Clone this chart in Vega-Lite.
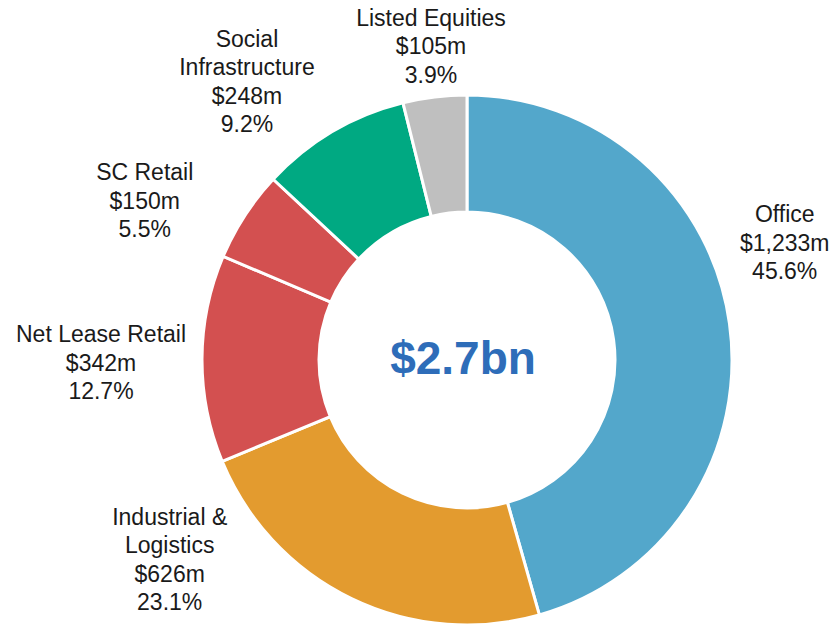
{
  "$schema": "https://vega.github.io/schema/vega-lite/v6.json",
  "autosize": "none",
  "width": 734,
  "height": 528,
  "padding": {"left": 100, "top": 96, "right": 0, "bottom": 0},
  "background": "white",
  "view": {"stroke": null},
  "config": {"text": {"font": "Liberation Sans", "fontSize": 23, "lineHeight": 28.5, "lineBreak": "\n", "color": "#1a1a1a", "align": "center", "baseline": "middle"}},
  "data": {
    "values": [
      {"category": "Office", "amount": 1233, "label": "Office\n$1,233m\n45.6%"},
      {"category": "Industrial & Logistics", "amount": 626, "label": "Industrial &\nLogistics\n$626m\n23.1%"},
      {"category": "Net Lease Retail", "amount": 342, "label": "Net Lease Retail\n$342m\n12.7%"},
      {"category": "SC Retail", "amount": 150, "label": "SC Retail\n$150m\n5.5%"},
      {"category": "Social Infrastructure", "amount": 248, "label": "Social\nInfrastructure\n$248m\n9.2%"},
      {"category": "Listed Equities", "amount": 105, "label": "Listed Equities\n$105m\n3.9%"}
    ]
  },
  "transform": [
    {"window": [{"op": "sum", "field": "amount", "as": "cum"}], "frame": [null, 0]},
    {"calculate": "datum.cum - datum.amount / 2", "as": "mid"}
  ],
  "layer": [
    {
      "mark": {"type": "arc", "outerRadius": 265, "innerRadius": 148, "stroke": "white", "strokeWidth": 3},
      "encoding": {
        "theta": {"field": "amount", "type": "quantitative", "stack": true},
        "order": {"field": "cum", "type": "quantitative"},
        "color": {
          "field": "category",
          "type": "nominal",
          "legend": null,
          "scale": {
            "domain": ["Office", "Industrial & Logistics", "Net Lease Retail", "SC Retail", "Social Infrastructure", "Listed Equities"],
            "range": ["#53A7CB", "#E39B2F", "#D35050", "#D35050", "#00A982", "#BFBFBF"]
          }
        }
      }
    },
    {
      "transform": [{"filter": "datum.category == 'Office'"}],
      "mark": {"type": "text", "radius": 345, "dx": -24, "dy": -97},
      "encoding": {"theta": {"field": "mid", "type": "quantitative", "stack": null}, "text": {"field": "label"}}
    },
    {
      "transform": [{"filter": "datum.category == 'Industrial & Logistics'"}],
      "mark": {"type": "text", "radius": 345, "dx": -147, "dy": -153},
      "encoding": {"theta": {"field": "mid", "type": "quantitative", "stack": null}, "text": {"field": "label"}}
    },
    {
      "transform": [{"filter": "datum.category == 'Net Lease Retail'"}],
      "mark": {"type": "text", "radius": 345, "dx": -21, "dy": -23},
      "encoding": {"theta": {"field": "mid", "type": "quantitative", "stack": null}, "text": {"field": "label"}}
    },
    {
      "transform": [{"filter": "datum.category == 'SC Retail'"}],
      "mark": {"type": "text", "radius": 345, "dx": -33, "dy": 1},
      "encoding": {"theta": {"field": "mid", "type": "quantitative", "stack": null}, "text": {"field": "label"}}
    },
    {
      "transform": [{"filter": "datum.category == 'Social Infrastructure'"}],
      "mark": {"type": "text", "radius": 345, "dx": -45, "dy": -23},
      "encoding": {"theta": {"field": "mid", "type": "quantitative", "stack": null}, "text": {"field": "label"}}
    },
    {
      "transform": [{"filter": "datum.category == 'Listed Equities'"}],
      "mark": {"type": "text", "radius": 345, "dx": 6, "dy": 1},
      "encoding": {"theta": {"field": "mid", "type": "quantitative", "stack": null}, "text": {"field": "label"}}
    },
    {
      "data": {"values": [{"total": "$2.7bn"}]},
      "mark": {"type": "text", "fontSize": 46, "fontWeight": "bold", "font": "Liberation Sans", "color": "#2E6DB9", "dx": -4, "dy": 0},
      "encoding": {"text": {"field": "total"}}
    }
  ]
}
